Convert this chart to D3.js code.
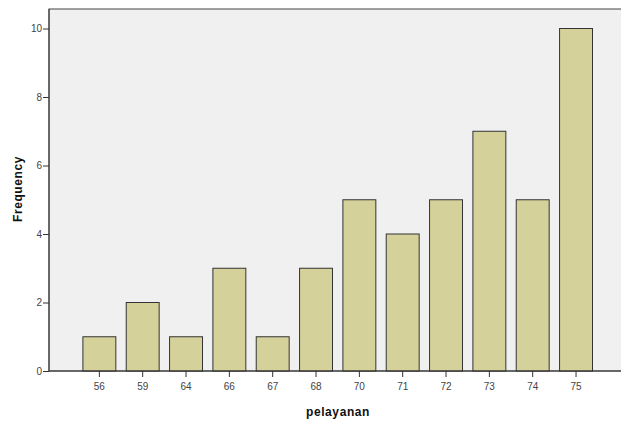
<!DOCTYPE html>
<html><head><meta charset="utf-8">
<script src="https://cdn.jsdelivr.net/npm/d3@7"></script>
<style>body{margin:0;background:#fff}svg{display:block}</style>
</head><body>
<svg id="c" width="621" height="423"></svg>
<script>
const categories = ["56","59","64","66","67","68","70","71","72","73","74","75"];
const frequencies = [1,2,1,3,1,3,5,4,5,7,5,10];
const yTicks = [0,2,4,6,8,10];
const xTitle = "pelayanan";
const yTitle = "Frequency";

const svg = d3.select("#c");
const plot = {left:49, top:9, right:622, bottom:371};

svg.append("rect").attr("x",plot.left).attr("y",plot.top)
  .attr("width",plot.right-plot.left).attr("height",plot.bottom-plot.top)
  .attr("fill","#f0f0f0").attr("stroke","#444").attr("stroke-width",1);

const x = d3.scaleBand().domain(categories).range([77.7,597.7])
  .paddingInner(0.24).paddingOuter(0.12);
const y = d3.scaleLinear().domain([0,10]).range([371,28.5]);

svg.append("g").selectAll("rect").data(categories).join("rect")
  .attr("x",d=>x(d)).attr("width",x.bandwidth())
  .attr("y",(d,i)=>y(frequencies[i])).attr("height",(d,i)=>y(0)-y(frequencies[i]))
  .attr("fill","#d5d19a").attr("stroke","#333").attr("stroke-width",1);

const yAxis = svg.append("g").attr("transform",`translate(${plot.left},0)`)
  .call(d3.axisLeft(y).tickValues(yTicks).tickSize(6).tickPadding(1));
const xAxis = svg.append("g").attr("transform",`translate(0,${plot.bottom})`)
  .call(d3.axisBottom(x).tickSize(6).tickPadding(6));
[yAxis,xAxis].forEach(a=>{
  a.select(".domain").attr("stroke","#333");
  a.selectAll(".tick line").attr("stroke","#333");
  a.selectAll("text").attr("font-family","Arial, 'Liberation Sans', sans-serif")
    .attr("font-size",10).attr("fill","#444");
});
xAxis.select(".domain").attr("d",`M${plot.left},0H${plot.right}`);
yAxis.select(".domain").attr("d",`M0,${plot.top}V${plot.bottom}`);

svg.append("text").attr("x",338).attr("y",416).attr("text-anchor","middle")
  .attr("font-family","Arial, 'Liberation Sans', sans-serif").attr("font-weight","bold")
  .attr("font-size",12).attr("letter-spacing",0.6).attr("fill","#111").text(xTitle);
svg.append("text").attr("transform","translate(22,189) rotate(-90)").attr("text-anchor","middle")
  .attr("font-family","Arial, 'Liberation Sans', sans-serif").attr("font-weight","bold")
  .attr("font-size",12).attr("letter-spacing",0.6).attr("fill","#111").text(yTitle);
</script>
</body></html>
